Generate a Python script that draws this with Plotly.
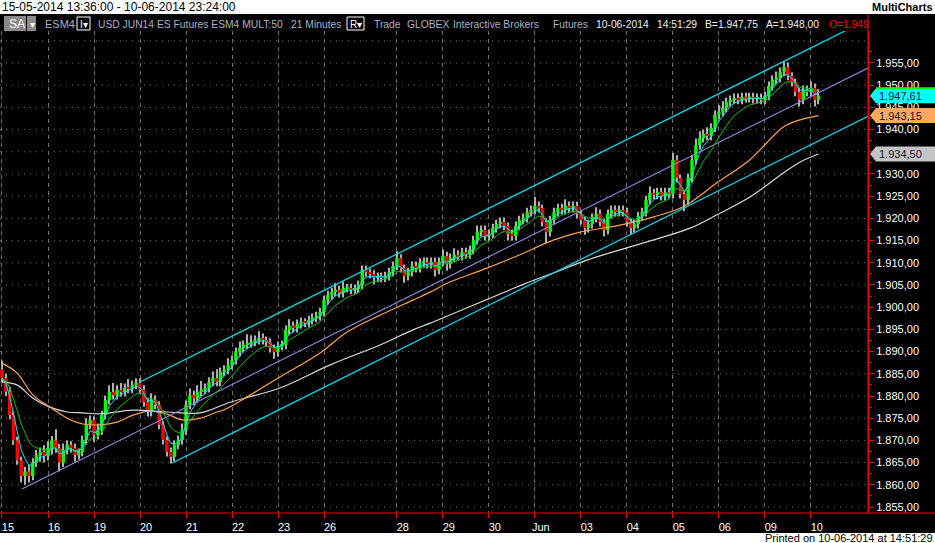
import plotly.graph_objects as go
import pandas as pd

# ---------------- data ----------------
closes = [
    1884.0, 1881.0, 1875.7, 1870.0, 1865.5, 1862.0, 1863.0, 1862.0, 1865.0, 1866.7, 1867.4, 1866.5,
    1868.3, 1870.0, 1868.2, 1865.0, 1867.8, 1869.0, 1868.3, 1866.7, 1867.4, 1870.1, 1873.5, 1874.6,
    1871.2, 1872.3, 1875.7, 1879.1, 1880.9, 1880.2, 1881.4, 1880.9, 1881.8, 1881.6, 1882.5, 1883.0,
    1881.4, 1878.6, 1876.4, 1879.1, 1878.0, 1873.5, 1870.1, 1867.4, 1866.3, 1869.0, 1870.1, 1872.3,
    1878.0, 1880.2, 1879.5, 1880.9, 1881.4, 1881.8, 1883.2, 1884.0, 1883.2, 1885.4, 1885.9, 1887.0,
    1888.1, 1889.9, 1890.8, 1891.5, 1891.9, 1892.2, 1892.6, 1893.1, 1892.6, 1892.2, 1890.8, 1889.9,
    1891.3, 1891.5, 1894.9, 1895.8, 1895.3, 1896.2, 1896.7, 1896.5, 1897.1, 1897.6, 1898.0, 1898.9,
    1901.6, 1902.7, 1903.4, 1903.9, 1903.2, 1904.3, 1904.3, 1903.9, 1904.1, 1905.0, 1908.4, 1907.9,
    1907.5, 1906.6, 1906.8, 1906.6, 1907.0, 1907.9, 1909.3, 1911.1, 1908.8, 1907.0, 1907.9, 1909.3,
    1908.8, 1910.0, 1910.2, 1909.7, 1910.2, 1908.4, 1910.2, 1911.5, 1909.7, 1911.1, 1911.8, 1911.5,
    1912.4, 1911.9, 1912.9, 1915.1, 1916.9, 1917.4, 1916.0, 1916.5, 1917.8, 1918.7, 1919.2, 1918.3,
    1916.5, 1916.0, 1918.3, 1919.6, 1920.1, 1921.4, 1921.9, 1922.8, 1922.3, 1919.2, 1916.9, 1919.6,
    1921.4, 1922.3, 1921.9, 1922.8, 1922.3, 1922.8, 1921.0, 1919.6, 1917.8, 1918.7, 1920.1, 1921.0,
    1919.2, 1917.4, 1921.0, 1921.9, 1921.4, 1921.9, 1921.4, 1919.2, 1917.8, 1918.7, 1920.5, 1921.4,
    1924.1, 1925.7, 1925.3, 1925.9, 1925.0, 1925.9, 1925.5, 1933.2, 1929.1, 1925.5, 1924.1, 1929.1,
    1933.2, 1936.5, 1938.1, 1939.0, 1938.6, 1940.4, 1943.3, 1944.0, 1944.9, 1946.2, 1946.7, 1947.1,
    1946.7, 1947.3, 1947.1, 1947.3, 1946.9, 1947.1, 1946.7, 1947.6, 1949.8, 1951.2, 1951.6, 1953.0,
    1954.1, 1952.1, 1950.7, 1948.5, 1946.7, 1948.9, 1948.5, 1949.4, 1946.7, 1947.6,
]
first_open = 1886.0

# wick extents above / below the body (points)
up_wick = [
    2.0, 1.0, 1.0, 0.8, 0.8, 0.8, 1.0, 1.5, 1.0, 1.2, 1.0, 1.5,
    1.5, 1.0, 2.5, 1.0, 1.5, 1.0, 0.8, 1.0, 0.8, 1.0, 1.5, 1.0,
    0.8, 1.5, 1.0, 1.0, 1.5, 2.0, 1.0, 1.5, 1.0, 2.0, 1.0, 1.0,
    1.0, 1.0, 0.8, 1.5, 1.0, 0.8, 0.8, 0.8, 1.0, 1.0, 1.0, 1.5,
    1.0, 1.5, 1.0, 1.5, 2.0, 1.0, 1.0, 1.5, 2.0, 1.0, 1.0, 1.5,
    1.0, 1.0, 1.5, 1.0, 2.0, 1.5, 1.0, 1.5, 1.0, 0.8, 0.8, 0.8,
    1.0, 1.0, 1.0, 1.5, 1.0, 1.0, 1.0, 0.8, 1.0, 1.0, 1.0, 1.0,
    1.0, 1.0, 1.0, 1.5, 1.0, 1.5, 1.0, 1.0, 1.0, 1.0, 1.0, 1.0,
    0.8, 0.8, 1.0, 1.0, 1.0, 1.0, 1.0, 1.5, 0.8, 0.8, 1.0, 1.0,
    1.0, 1.0, 1.0, 1.0, 1.0, 1.0, 1.0, 1.5, 1.0, 1.0, 1.5, 1.0,
    1.0, 1.0, 1.0, 1.0, 1.5, 1.0, 1.0, 1.0, 1.0, 1.0, 1.0, 1.0,
    0.8, 1.0, 1.0, 1.0, 1.0, 1.0, 1.0, 2.0, 1.0, 0.8, 0.8, 1.0,
    1.0, 1.0, 1.0, 1.5, 1.0, 1.0, 1.0, 0.8, 0.8, 1.0, 1.0, 1.5,
    1.0, 0.8, 1.0, 1.0, 1.0, 1.0, 1.0, 1.0, 0.8, 1.0, 1.0, 1.0,
    1.0, 1.5, 1.0, 1.0, 1.0, 1.0, 1.0, 1.5, 1.0, 0.8, 0.8, 1.0,
    1.0, 1.5, 1.5, 1.0, 1.5, 1.0, 1.0, 1.5, 1.5, 1.0, 1.0, 1.0,
    1.0, 1.0, 1.0, 1.0, 1.0, 1.0, 1.0, 1.0, 1.0, 1.0, 1.5, 1.0,
    1.2, 1.0, 0.8, 0.8, 1.0, 1.0, 1.0, 1.5, 1.0, 1.5,
]
dn_wick = [
    1.0, 1.0, 1.0, 1.0, 1.0, 1.5, 2.0, 1.5, 1.0, 1.0, 1.5, 1.5,
    1.0, 1.5, 1.0, 2.0, 1.0, 1.0, 1.0, 1.5, 1.0, 1.0, 1.0, 1.0,
    1.5, 1.0, 1.0, 1.0, 1.0, 1.0, 1.0, 1.0, 1.0, 1.0, 1.0, 1.0,
    0.8, 1.0, 1.0, 1.0, 1.0, 1.0, 1.0, 1.0, 1.5, 1.0, 1.0, 1.0,
    1.0, 1.0, 1.5, 1.0, 1.0, 1.0, 1.0, 1.0, 1.0, 1.0, 1.0, 1.0,
    1.0, 1.0, 1.0, 1.0, 1.0, 1.0, 1.0, 1.0, 1.0, 1.0, 1.0, 1.5,
    1.0, 1.0, 1.0, 1.0, 1.0, 1.0, 1.0, 1.0, 1.0, 1.0, 1.0, 1.0,
    1.0, 1.0, 1.0, 1.0, 1.0, 1.0, 1.0, 1.0, 1.0, 1.0, 1.0, 1.0,
    1.0, 1.5, 1.0, 1.0, 1.0, 1.0, 1.0, 1.0, 1.0, 1.5, 1.0, 1.0,
    1.0, 1.0, 1.0, 1.0, 1.0, 1.5, 1.0, 1.0, 1.5, 1.0, 1.0, 1.0,
    1.0, 1.0, 1.0, 1.0, 1.0, 1.0, 1.0, 1.0, 1.0, 1.0, 1.0, 1.0,
    1.5, 1.0, 1.0, 1.0, 1.0, 1.0, 1.0, 1.0, 1.0, 1.0, 2.5, 1.0,
    1.0, 1.0, 1.0, 1.0, 1.0, 1.0, 1.0, 1.0, 1.5, 1.0, 1.0, 1.0,
    1.0, 1.5, 1.0, 1.0, 1.0, 1.0, 1.0, 1.0, 1.5, 1.0, 1.0, 1.0,
    1.0, 1.0, 1.0, 1.0, 1.0, 1.0, 1.0, 1.0, 1.0, 1.0, 2.5, 1.0,
    1.0, 1.0, 1.0, 1.0, 1.0, 1.0, 1.0, 1.0, 1.0, 1.0, 1.0, 1.0,
    1.0, 1.0, 1.0, 1.0, 1.0, 1.0, 1.0, 1.0, 1.0, 1.0, 1.0, 1.0,
    1.0, 1.0, 1.0, 1.0, 1.5, 1.0, 1.0, 1.0, 1.5, 1.0,
]

# day labels on the time axis (bar index where each session starts)
day_idx = [0, 12, 24, 36, 48, 60, 72, 84, 103, 115, 127, 139, 151, 163, 175, 187, 199, 211]
day_lab = ["15", "16", "19", "20", "21", "22", "23", "26", "28", "29", "30", "Jun",
           "03", "04", "05", "06", "09", "10"]

# price-scale labels
price_ticks = [1855, 1860, 1865, 1870, 1875, 1880, 1885, 1890, 1895, 1900, 1905,
               1910, 1915, 1920, 1925, 1930, 1935, 1940, 1945, 1950, 1955]
price_labels = ["1.855,00", "1.860,00", "1.865,00", "1.870,00", "1.875,00", "1.880,00",
                "1.885,00", "1.890,00", "1.895,00", "1.900,00", "1.905,00", "1.910,00",
                "1.915,00", "1.920,00", "1.925,00", "1.930,00", "1.935,00", "1.940,00",
                "1.945,00", "1.950,00", "1.955,00"]
grid_prices = price_ticks + [1960]

# slow moving averages (sampled along the curve)
orange_idx = [0, 3.9, 8.1, 12.5, 17, 21.1, 25.6, 30, 34.2, 38.6, 43, 47.2, 51.7, 56.1, 57.7,
              64.7, 72.5, 83, 90, 98.6, 107.2, 111.7, 116.4, 126.5, 135.1, 143.8, 150.8,
              161.2, 169.8, 177.7, 186.5, 195.1, 203.8, 208.2, 213]
orange_val = [1887.4, 1885.2, 1880.2, 1877.5, 1875.0, 1873.7, 1873.5, 1874.1, 1875.7, 1876.6,
              1875.9, 1874.6, 1875.0, 1876.4, 1876.8, 1880.2, 1884.3, 1889.7, 1894.4, 1898.2,
              1901.6, 1903.4, 1905.5, 1908.8, 1911.8, 1915.1, 1916.9, 1918.5, 1920.3, 1922.6,
              1928.0, 1933.2, 1940.6, 1942.2, 1943.15]
white_idx = [0, 3.9, 8.1, 12.5, 17, 21.1, 25.6, 34.2, 43, 51.7, 59.5, 72.5, 85.6, 98.6, 107.2,
             111.7, 137, 143.8, 152.6, 161.2, 169.8, 179.5, 186.5, 195.1, 203.8, 208.2, 213]
white_val = [1883.2, 1882.5, 1879.5, 1877.5, 1876.4, 1876.2, 1876.0, 1876.8, 1876.4, 1876.2,
             1878.6, 1881.8, 1887.0, 1891.5, 1894.9, 1896.4, 1905.5, 1907.7, 1910.6, 1912.9,
             1915.1, 1917.8, 1920.8, 1924.8, 1930.2, 1932.7, 1934.5]

# regression channel (start / end)
chan_upper_idx = [36, 225.9]
chan_upper_val = [1883.15, 1964.8]
chan_mid_idx = [5.2, 225.9]
chan_mid_val = [1859.05, 1953.85]
chan_lower_idx = [44.4, 225.9]
chan_lower_val = [1864.9, 1943.0]

# last-value markers on the price scale
mark_vals = [1947.61, 1943.15, 1934.50]
mark_text = ["1.947,61", "1.943,15", "1.934,50"]
mark_cols = ["#00ffff", "#ffa860", "#c4c4c4"]

# ---------------- derived ----------------
idx = list(range(len(closes)))
opens = [first_open] + closes[:-1]
highs = [max(o, c) + w for o, c, w in zip(opens, closes, up_wick)]
lows = [min(o, c) - w for o, c, w in zip(opens, closes, dn_wick)]
body_base = [min(o, c) for o, c in zip(opens, closes)]
body_h = [max(abs(c - o), 0.3) for o, c in zip(opens, closes)]
body_col = ["#00ff00" if c >= o else "#ff0000" for o, c in zip(opens, closes)]
s = pd.Series(closes)
ma_fast = s.ewm(span=4, adjust=False).mean().tolist()
ma_mid = s.ewm(span=9, adjust=False).mean().tolist()
minor_vals = [p + 2.5 for p in grid_prices]

# ---------------- layout geometry ----------------
W, H = 935, 543
ML, MR, MT, MB = 0, 67, 31, 30
PW = W - ML - MR
PH = H - MT - MB


def fx(x):
    return (x - ML) / PW


def fy(y):
    return (H - MB - y) / PH


FONT = "Liberation Sans, Arial, sans-serif"

fig = go.Figure()

fig.add_trace(go.Scatter(x=white_idx, y=white_val, mode="lines",
                         line=dict(color="#d8d8d8", width=1.2, shape="spline"), hoverinfo="skip"))
fig.add_trace(go.Scatter(x=orange_idx, y=orange_val, mode="lines",
                         line=dict(color="#ffa050", width=1.2, shape="spline"), hoverinfo="skip"))
fig.add_trace(go.Scatter(x=chan_upper_idx, y=chan_upper_val, mode="lines",
                         line=dict(color="#00e0f0", width=1.2), hoverinfo="skip"))
fig.add_trace(go.Scatter(x=chan_mid_idx, y=chan_mid_val, mode="lines",
                         line=dict(color="#8a86d6", width=1.2), hoverinfo="skip"))
fig.add_trace(go.Scatter(x=chan_lower_idx, y=chan_lower_val, mode="lines",
                         line=dict(color="#00e0f0", width=1.2), hoverinfo="skip"))

fig.add_trace(go.Bar(x=idx, y=[h - l for h, l in zip(highs, lows)], base=lows, width=0.3,
                     marker=dict(color="#b0b0b0", line=dict(width=0)), hoverinfo="skip"))
fig.add_trace(go.Bar(x=idx, y=body_h, base=body_base, width=0.9,
                     marker=dict(color=body_col, line=dict(width=0)), hoverinfo="skip"))

fig.add_trace(go.Scatter(x=idx, y=ma_mid, mode="lines",
                         line=dict(color="#00c800", width=1), hoverinfo="skip"))
fig.add_trace(go.Scatter(x=idx, y=ma_fast, mode="lines",
                         line=dict(color="#00e8ff", width=1), hoverinfo="skip"))

shapes = []
# horizontal dotted grid (including the unlabeled top level)
for gp in grid_prices:
    shapes.append(dict(type="line", xref="paper", yref="y", x0=0, x1=1, y0=gp, y1=gp,
                       line=dict(color="#6e6e6e", width=1, dash="1px,5px"), layer="below"))
# white strips top / bottom
shapes.append(dict(type="rect", xref="paper", yref="paper", x0=fx(0), x1=fx(W), y0=fy(0), y1=fy(14),
                   fillcolor="white", line=dict(width=0), layer="below"))
shapes.append(dict(type="rect", xref="paper", yref="paper", x0=fx(0), x1=fx(W), y0=fy(533), y1=fy(H),
                   fillcolor="white", line=dict(width=0), layer="below"))
# red axis lines
shapes.append(dict(type="line", xref="paper", yref="paper", x0=fx(868), x1=fx(868), y0=fy(14), y1=fy(513),
                   line=dict(color="#ff0000", width=1)))
shapes.append(dict(type="line", xref="paper", yref="paper", x0=fx(0), x1=fx(W), y0=fy(513), y1=fy(513),
                   line=dict(color="#ff0000", width=1)))
# header boxes
shapes.append(dict(type="rect", xref="paper", yref="paper", x0=fx(4), x1=fx(26), y0=fy(16), y1=fy(31),
                   fillcolor="#8a8a8a", line=dict(width=0)))
shapes.append(dict(type="rect", xref="paper", yref="paper", x0=fx(27), x1=fx(36), y0=fy(16), y1=fy(31),
                   fillcolor="#8a8a8a", line=dict(width=0)))
shapes.append(dict(type="rect", xref="paper", yref="paper", x0=fx(77), x1=fx(90), y0=fy(17), y1=fy(30),
                   fillcolor="black", line=dict(color="white", width=1)))
shapes.append(dict(type="rect", xref="paper", yref="paper", x0=fx(347), x1=fx(364), y0=fy(17), y1=fy(30),
                   fillcolor="black", line=dict(color="white", width=1)))

annotations = []
# value markers on the price scale
hh = 7.5 / 4.44
for v, t, c in zip(mark_vals, mark_text, mark_cols):
    path = (f"M {fx(870)},{v} L {fx(876)},{v + hh} L {fx(935)},{v + hh} "
            f"L {fx(935)},{v - hh} L {fx(876)},{v - hh} Z")
    shapes.append(dict(type="path", xref="paper", yref="y", path=path,
                       fillcolor=c, line=dict(width=0), layer="above"))
    annotations.append(dict(x=fx(877), y=v, xref="paper", yref="y", text=t, showarrow=False,
                            xanchor="left", yanchor="middle",
                            font=dict(family=FONT, size=11, color="#101030")))
shapes.append(dict(type="line", xref="paper", yref="y", x0=fx(876), x1=fx(935),
                   y0=mark_vals[0] + hh, y1=mark_vals[0] + hh,
                   line=dict(color="#00ff00", width=2), layer="above"))


def ann(x, y, text, color, size=10, anchor="left", bold=False):
    if bold:
        text = "<b>" + text + "</b>"
    annotations.append(dict(x=fx(x), y=fy(y), xref="paper", yref="paper", text=text,
                            showarrow=False, xanchor=anchor, yanchor="middle",
                            font=dict(family=FONT, size=size, color=color)))


ann(0, 7, "15-05-2014 13:36:00 - 10-06-2014 23:24:00", "#000000", size=12)
ann(935, 7, "MultiCharts", "#000000", size=11, anchor="right", bold=True)
ann(935, 538, "Printed on 10-06-2014 at 14:51:29", "#000000", size=11, anchor="right")

GRAY = "#aab2c8"
WHT = "#f2f2f2"
ann(7, 24, "SA", "#ffffff", size=12)
ann(27.5, 24, "▾", "#ffffff", size=10)
ann(43, 24, "ESM4", GRAY, size=11)
ann(78, 24, "I▾", "#ffffff", size=10)
ann(96, 24, "USD JUN14 ES Futures ESM4 MULT:50", GRAY, size=10.3)
ann(289, 24, "21 Minutes", GRAY, size=10.3)
ann(348, 24, "R▾", "#ffffff", size=10)
ann(372, 24, "Trade", GRAY, size=10.3)
ann(405, 24, "GLOBEX", GRAY, size=10.3)
ann(451, 24, "Interactive Brokers", GRAY, size=10.3)
ann(551, 24, "Futures", GRAY, size=10.3)
ann(594, 24, "10-06-2014", WHT, size=10.3)
ann(655, 24, "14:51:29", WHT, size=10.3)
ann(703, 24, "B=1.947,75", WHT, size=10.3)
ann(764, 24, "A=1.948,00", WHT, size=10.3)
ann(827, 24, "O=1.949", "#ff0000", size=10.3)

fig.update_layout(
    width=W, height=H,
    margin=dict(l=ML, r=MR, t=MT, b=MB, pad=0),
    paper_bgcolor="black", plot_bgcolor="black",
    showlegend=False, barmode="overlay", hovermode=False,
    shapes=shapes, annotations=annotations,
    xaxis=dict(range=[-0.52, 225.9], tickmode="array", tickvals=day_idx, ticktext=day_lab,
               showgrid=True, gridcolor="#6e6e6e", griddash="4px,4px", gridwidth=1,
               ticks="outside", ticklen=4, tickcolor="#ff0000", showline=False, zeroline=False,
               ticklabelshift=6, tickfont=dict(family=FONT, size=11, color="#ffffff"),
               fixedrange=True),
    yaxis=dict(side="right", range=[1853.65, 1962.2], tickmode="array",
               tickvals=price_ticks, ticktext=price_labels,
               showgrid=False,
               ticks="outside", ticklen=5, tickcolor="#ff0000", showline=True,
               linecolor="#ff0000", linewidth=1, zeroline=False,
               minor=dict(tickmode="array", tickvals=minor_vals, ticks="outside", ticklen=3,
                          tickcolor="#ff0000", showgrid=False),
               tickfont=dict(family=FONT, size=11, color="#ffffff"), fixedrange=True),
)

fig.write_html("out.html", config={"displayModeBar": False},
               post_script="document.body.style.margin='0';document.body.style.overflow='hidden';")
